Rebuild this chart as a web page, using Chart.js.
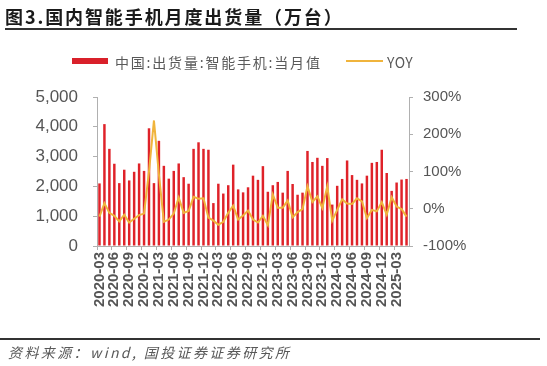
<!DOCTYPE html>
<html>
<head>
<meta charset="utf-8">
<script src="https://cdn.jsdelivr.net/npm/chart.js@4/dist/chart.umd.min.js"></script>
<style>
    html, body { margin: 0; padding: 0; background: #fff; }
    #wrap { position: relative; width: 547px; height: 366px; overflow: hidden; }
    #chart { position: absolute; left: 0; top: 0; }
    .title { position: absolute; left: 5px; top: 3px; font: bold 18px "Noto Sans CJK SC", sans-serif; letter-spacing: 1.9px; color: #1a1a1a; white-space: nowrap; }
    .rule-top { position: absolute; left: 5px; top: 28px; width: 512px; height: 2px; background: #333; }
    .legend { position: absolute; top: 52px; left: 72px; font: 14px "Noto Sans CJK SC", sans-serif; color: #595959; white-space: nowrap; letter-spacing: 1.8px; }
    .legend span { position: absolute; top: 0; }
    .swatch-bar { position: absolute; left: 0; top: 6px; width: 36px; height: 6px; background: #d9202a; }
    .swatch-line { position: absolute; left: 274px; top: 8px; width: 37px; height: 2px; background: #f0b43c; }
    .rule-bottom { position: absolute; left: 0; top: 338px; width: 540px; height: 2px; background: #333; }
    .source { position: absolute; left: 8px; top: 342px; font: italic 14px "Noto Sans CJK SC", sans-serif; color: #595959; white-space: nowrap; letter-spacing: 2.4px; }
</style>
</head>
<body>
<div id="wrap">
    <canvas id="chart" width="547" height="366"></canvas>
    <div class="title">图3.国内智能手机月度出货量（万台）</div>
    <div class="rule-top"></div>
    <div class="legend">
        <div class="swatch-bar"></div>
        <span style="left:43px">中国:出货量:智能手机:当月值</span>
        <div class="swatch-line"></div>
        <span style="left:315px; letter-spacing:0.5px">YOY</span>
    </div>
    <div class="rule-bottom"></div>
    <div class="source">资料来源：wind, 国投证券证券研究所</div>
</div>
<script>
// 月份 2020-03 ~ 2025-05
const months = [
    '2020-03','2020-04','2020-05','2020-06','2020-07','2020-08','2020-09','2020-10','2020-11','2020-12',
    '2021-01','2021-02','2021-03','2021-04','2021-05','2021-06','2021-07','2021-08','2021-09','2021-10','2021-11','2021-12',
    '2022-01','2022-02','2022-03','2022-04','2022-05','2022-06','2022-07','2022-08','2022-09','2022-10','2022-11','2022-12',
    '2023-01','2023-02','2023-03','2023-04','2023-05','2023-06','2023-07','2023-08','2023-09','2023-10','2023-11','2023-12',
    '2024-01','2024-02','2024-03','2024-04','2024-05','2024-06','2024-07','2024-08','2024-09','2024-10','2024-11','2024-12',
    '2025-01','2025-02','2025-03','2025-04','2025-05'
];

// 出货量 (万台)
const shipments = [
    2100, 4090, 3260, 2760, 2110, 2560, 2200, 2490, 2770, 2520,
    3950, 2110, 3530, 2690, 2260, 2520, 2770, 2310, 2090, 3260, 3480, 3260,
    3230, 1440, 2090, 1760, 2040, 2730, 1900, 1800, 1970, 2360, 2220, 2680,
    1820, 2040, 2150, 1790, 2520, 2080, 1720, 1790, 3190, 2820, 2960, 2690,
    2950, 1390, 2020, 2250, 2870, 2380, 2220, 2100, 2360, 2790, 2820, 3230,
    2450, 1850, 2130, 2230, 2250
];

// 同比 (%)
const yoy = [
    -21, 15, -11, -19, -34, -16, -37, -27, -17, -13,
    100, 237, 92, -35, -29, -13, 30, -11, -6, 32, 27, 28,
    -24, -32, -43, -35, -11, 8, -29, -18, -5, -29, -37, -19,
    -44, 38, 3, 3, 22, -23, -9, -1, 60, 18, 33, 2,
    60, -32, -3, 25, 14, 13, 28, 20, -25, -3, -7, 18,
    -16, 31, 6, -1, -21
];

const leftTicks = [0, 1000, 2000, 3000, 4000, 5000];
const rightTicks = [-100, -50, 0, 50, 100, 150, 200, 250, 300];

const axisColor = '#b0b0b0';
const textColor = '#555555';
const numFont = '"Liberation Sans", Arial, sans-serif';

const ctx = document.getElementById('chart');
new Chart(ctx, {
    data: {
        labels: months,
        datasets: [{
            type: 'line',
            label: 'YOY',
            data: yoy,
            yAxisID: 'y1',
            borderColor: '#f0b43c',
            borderWidth: 2,
            pointRadius: 0,
            tension: 0,
            order: 0
        }, {
            type: 'bar',
            label: '中国:出货量:智能手机:当月值',
            data: shipments,
            yAxisID: 'y',
            backgroundColor: '#df2229',
            barPercentage: 0.5,
            categoryPercentage: 1,
            order: 1
        }]
    },
    options: {
        responsive: false,
        animation: false,
        layout: { padding: { top: 97, left: 0, right: 0, bottom: 0 } },
        plugins: { legend: { display: false }, tooltip: { enabled: false } },
        scales: {
            x: {
                offset: true,
                afterFit: s => { s.height = 120; },
                border: { display: true, color: axisColor, width: 1 },
                grid: {
                    offset: true,
                    drawOnChartArea: false,
                    drawTicks: true,
                    tickLength: 4,
                    color: c => (c.index % 3 === 0 ? axisColor : 'rgba(0,0,0,0)')
                },
                ticks: {
                    autoSkip: false,
                    minRotation: 90,
                    maxRotation: 90,
                    padding: 2,
                    color: textColor,
                    font: { family: numFont, size: 15, weight: 'bold' },
                    callback: (v, i) => (i % 3 === 0 ? months[i] : '')
                }
            },
            y: {
                position: 'left',
                min: 0,
                max: 5000,
                afterFit: s => { s.width = 97; },
                afterBuildTicks: s => { s.ticks = leftTicks.map(v => ({ value: v })); },
                border: { display: true, color: axisColor },
                grid: { drawOnChartArea: false, tickLength: 4, color: axisColor },
                ticks: {
                    padding: 15,
                    color: textColor,
                    font: { family: numFont, size: 17 },
                    callback: v => v.toLocaleString('en-US')
                }
            },
            y1: {
                position: 'right',
                min: -100,
                max: 300,
                afterFit: s => { s.width = 138; },
                afterBuildTicks: s => { s.ticks = rightTicks.map(v => ({ value: v })); },
                border: { display: true, color: axisColor },
                grid: { drawOnChartArea: false, tickLength: 4, color: axisColor },
                ticks: {
                    padding: 10,
                    color: textColor,
                    font: { family: numFont, size: 15 },
                    callback: v => v + '%'
                }
            }
        }
    }
});
</script>
</body>
</html>
